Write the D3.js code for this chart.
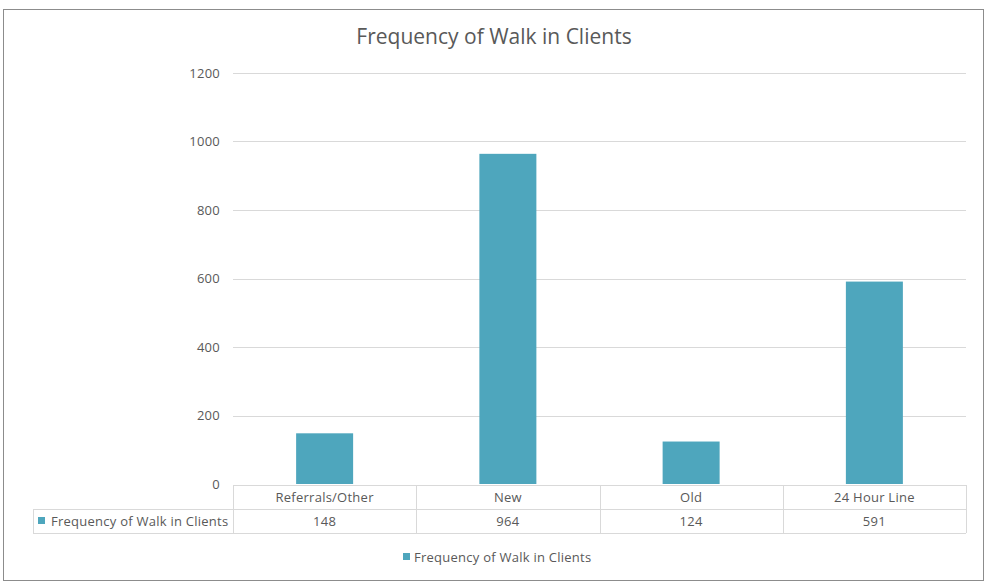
<!DOCTYPE html>
<html>
<head>
<meta charset="utf-8">
<script src="https://cdn.jsdelivr.net/npm/d3@7"></script>
<style>
  body { margin: 0; background: #fff; }
  svg text { font-family: "Open Sans", Lato, sans-serif; fill: #595959; }
  .small { font-size: 13px; letter-spacing: 0.25px; }
</style>
</head>
<body>
<div id="chart"></div>
<script>
/* Data */
var categories = ["Referrals/Other", "New", "Old", "24 Hour Line"];
var values = [148, 964, 124, 591];
var yTicks = [0, 200, 400, 600, 800, 1000, 1200];
var seriesName = "Frequency of Walk in Clients";
var chartTitle = "Frequency of Walk in Clients";

var width = 989, height = 583;
var barColor = "#4ea6bd", gridColor = "#d9d9d9";

var svg = d3.select("#chart").append("svg")
    .attr("width", width).attr("height", height);

// outer frame
svg.append("rect").attr("x", 3.5).attr("y", 9.5).attr("width", 980).attr("height", 571)
    .attr("fill", "#fff").attr("stroke", "#8c8c8c").attr("stroke-width", 1);

svg.append("text").attr("x", 494).attr("y", 44).attr("text-anchor", "middle")
    .style("font-size", "21px").text(chartTitle);

var x = d3.scaleBand().domain(categories).range([233, 966]).paddingInner(0).paddingOuter(0);
var y = d3.scaleLinear().domain([0, 1200]).range([484, 73]);

// gridlines
svg.append("g").selectAll("line").data(yTicks.filter(function(d) { return d > 0; })).enter()
    .append("line")
    .attr("x1", 233).attr("x2", 966)
    .attr("y1", function(d) { return Math.round(y(d)) + 0.5; })
    .attr("y2", function(d) { return Math.round(y(d)) + 0.5; })
    .attr("stroke", gridColor);

// y axis labels
var yAxis = d3.axisLeft(y).tickValues(yTicks).tickFormat(d3.format("d")).tickSize(0).tickPadding(0);
var ga = svg.append("g").attr("transform", "translate(220,0)").call(yAxis);
ga.select(".domain").remove();
ga.selectAll("text").attr("class", "small").style("font-family", "'Open Sans', Lato, sans-serif")
    .style("font-size", "13px").attr("fill", "#595959");

// bars
var barW = 57;
svg.append("g").selectAll("rect").data(values).enter().append("rect")
    .attr("x", function(d, i) { return x(categories[i]) + x.bandwidth() / 2 - barW / 2; })
    .attr("y", function(d) { return y(d); })
    .attr("width", barW)
    .attr("height", function(d) { return y(0) - y(d); })
    .attr("fill", barColor);

/* data table */
var tRow1 = 485, tRow2 = 509, tRow3 = 533, tLeft = 33;
var tbl = svg.append("g").attr("stroke", gridColor).attr("fill", "none");
tbl.append("line").attr("x1", 233).attr("x2", 966).attr("y1", tRow1 + 0.5).attr("y2", tRow1 + 0.5);
tbl.append("line").attr("x1", tLeft).attr("x2", 966).attr("y1", tRow2 + 0.5).attr("y2", tRow2 + 0.5);
tbl.append("line").attr("x1", tLeft).attr("x2", 966).attr("y1", tRow3 + 0.5).attr("y2", tRow3 + 0.5);
tbl.append("line").attr("x1", tLeft + 0.5).attr("x2", tLeft + 0.5).attr("y1", tRow2).attr("y2", tRow3);
var edges = categories.map(function(c) { return x(c); }).concat([966]);
tbl.selectAll("line.v").data(edges).enter().append("line")
    .attr("x1", function(d) { return Math.round(d) + 0.5; })
    .attr("x2", function(d) { return Math.round(d) + 0.5; })
    .attr("y1", tRow1).attr("y2", tRow3);

svg.append("g").selectAll("text").data(categories).enter().append("text")
    .attr("class", "small")
    .attr("x", function(d) { return x(d) + x.bandwidth() / 2; })
    .attr("y", (tRow1 + tRow2) / 2 + 4.5)
    .attr("text-anchor", "middle")
    .text(function(d) { return d; });

svg.append("g").selectAll("text").data(values).enter().append("text")
    .attr("class", "small")
    .attr("x", function(d, i) { return x(categories[i]) + x.bandwidth() / 2; })
    .attr("y", (tRow2 + tRow3) / 2 + 4.5)
    .attr("text-anchor", "middle")
    .text(function(d) { return d; });

svg.append("rect").attr("x", 38).attr("y", 517).attr("width", 7).attr("height", 7).attr("fill", barColor);
svg.append("text").attr("class", "small").attr("x", 51).attr("y", (tRow2 + tRow3) / 2 + 4.5)
    .text(seriesName);

// legend
var lg = svg.append("g").attr("transform", "translate(403,557)");
lg.append("rect").attr("x", 0).attr("y", -4).attr("width", 7).attr("height", 7).attr("fill", barColor);
lg.append("text").attr("class", "small").attr("x", 11).attr("y", 4.5).text(seriesName);
</script>
</body>
</html>
